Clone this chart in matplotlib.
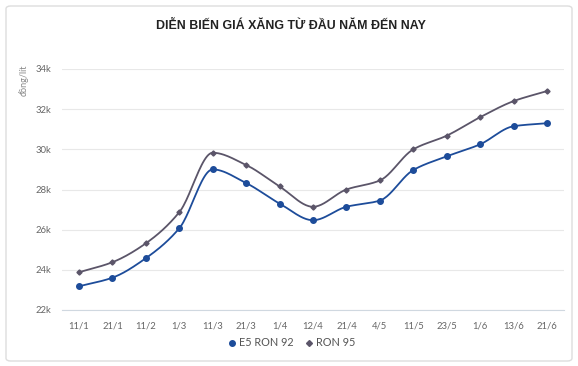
import numpy as np
import matplotlib
matplotlib.use("Agg")
import matplotlib.pyplot as plt
from matplotlib.patches import FancyBboxPatch
from matplotlib.lines import Line2D

dates = ["11/1", "21/1", "11/2", "1/3", "11/3", "21/3", "1/4", "12/4", "21/4",
         "4/5", "11/5", "23/5", "1/6", "13/6", "21/6"]
e5_ron92 = [23180, 23610, 24580, 26070, 29000, 28320, 27300, 26470, 27140,
            27450, 28970, 29650, 30250, 31150, 31300]
ron95 = [23880, 24380, 25320, 26870, 29830, 29220, 28150, 27140, 28000,
         28450, 30000, 30680, 31600, 32400, 32900]
yticks = [22000, 24000, 26000, 28000, 30000, 32000, 34000]
ytick_labels = ["22k", "24k", "26k", "28k", "30k", "32k", "34k"]

C_E5 = "#1d4c9a"
C_95 = "#5b5569"

plt.rcParams["font.family"] = ["Lato", "DejaVu Sans"]


def smooth(x, y, n=24):
    # Monotone cubic (Fritsch-Carlson) curve through the points
    x = np.asarray(x, float)
    y = np.asarray(y, float)
    h = np.diff(x)
    d = np.diff(y) / h
    m = np.zeros_like(y)
    m[0], m[-1] = d[0], d[-1]
    for k in range(1, len(y) - 1):
        if d[k - 1] * d[k] <= 0:
            m[k] = 0.0
        else:
            w1 = 2 * h[k] + h[k - 1]
            w2 = h[k] + 2 * h[k - 1]
            m[k] = (w1 + w2) / (w1 / d[k - 1] + w2 / d[k])
    xs, ys = [], []
    for i in range(len(x) - 1):
        t = np.linspace(0, 1, n, endpoint=False)
        h00 = 2 * t**3 - 3 * t**2 + 1
        h10 = t**3 - 2 * t**2 + t
        h01 = -2 * t**3 + 3 * t**2
        h11 = t**3 - t**2
        xs.extend(x[i] + t * h[i])
        ys.extend(h00 * y[i] + h10 * h[i] * m[i] + h01 * y[i + 1] + h11 * h[i] * m[i + 1])
    xs.append(x[-1])
    ys.append(y[-1])
    return np.array(xs), np.array(ys)


fig = plt.figure(figsize=(5.78, 3.66), dpi=100)
fig.patch.set_facecolor("white")

card = FancyBboxPatch((6 / 578, 5 / 366), 566 / 578, 355 / 366,
                      boxstyle="round,pad=0,rounding_size=0.008",
                      transform=fig.transFigure, facecolor="white",
                      edgecolor="#dddddd", linewidth=1.0, zorder=-5)
fig.patches.append(card)

ax = fig.add_axes([62.3 / 578, 1 - 310 / 366, (563.7 - 62.3) / 578, (310 - 69) / 366])
ax.set_zorder(2)
ax.set_facecolor("none")
x = np.arange(len(dates))

for vals, col, mk, ms in [(ron95, C_95, "D", 2.6), (e5_ron92, C_E5, "o", 4.0)]:
    sx, sy = smooth(x, vals)
    ax.plot(sx, sy, color=col, linewidth=1.3, zorder=3)
    ax.plot(x, vals, linestyle="none", marker=mk, markersize=ms, color=col, zorder=4)

ax.set_xlim(-0.5, len(dates) - 0.5)
ax.set_ylim(22000, 34000)
ax.set_yticks(yticks)
ax.set_yticklabels(ytick_labels)
ax.set_xticks(x)
ax.set_xticklabels(dates)
ax.grid(axis="y", color="#e8e8e8", linewidth=0.8)
ax.set_axisbelow(True)
for s in ["top", "right", "left"]:
    ax.spines[s].set_visible(False)
ax.spines["bottom"].set_color("#d0d8e0")
ax.spines["bottom"].set_linewidth(0.8)
ax.tick_params(axis="both", length=0, labelsize=6.8, colors="#666666")
ax.tick_params(axis="x", pad=8)
ax.tick_params(axis="y", pad=8)

fig.text(291 / 578, 1 - 26 / 366, "DIỄN BIẾN GIÁ XĂNG TỪ ĐẦU NĂM ĐẾN NAY",
         ha="center", va="center", fontsize=8.9, fontweight="bold", color="#222222",
         family=["Liberation Sans", "DejaVu Sans"])
fig.text(24 / 578, 1 - 80 / 366, "đồng/lít", rotation=90, ha="center", va="center",
         fontsize=6.5, color="#888888")

handles = [Line2D([], [], color=C_E5, marker="o", linestyle="none", markersize=4),
           Line2D([], [], color=C_95, marker="D", linestyle="none", markersize=3)]
fig.legend(handles, ["E5 RON 92", "RON 95"], loc="center", ncol=2,
           bbox_to_anchor=(291 / 578, 1 - 343 / 366), frameon=False,
           fontsize=7.8, labelcolor="#555555", handletextpad=0.1,
           columnspacing=1.0, handlelength=1.0)

fig.savefig("out.png", dpi=100)
